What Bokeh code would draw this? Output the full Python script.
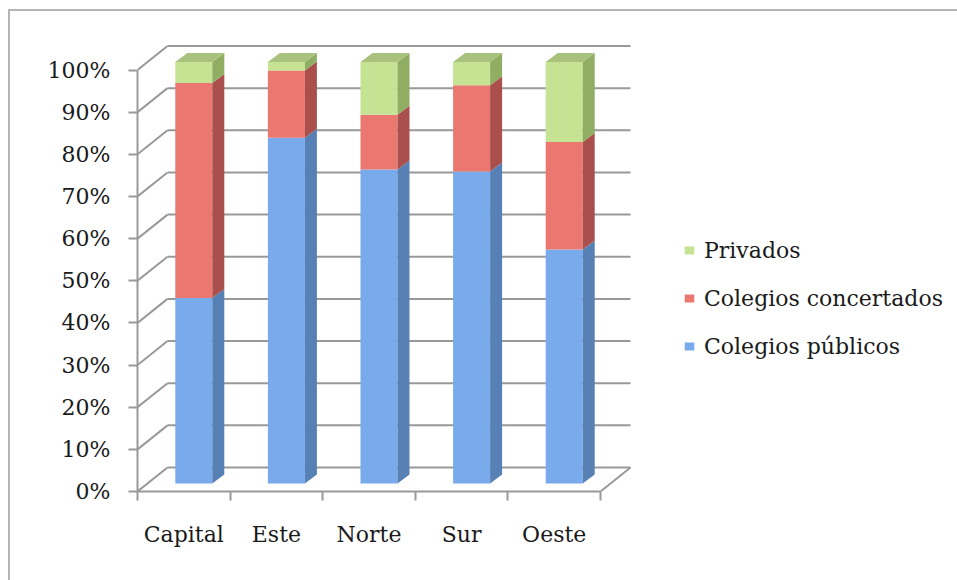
from bokeh.plotting import figure
from bokeh.models import (Range1d, FixedTicker, PrintfTickFormatter, Legend,
                          LegendItem, InlineStyleSheet)
from bokeh.embed import file_html
from bokeh.resources import INLINE

# ---------------- data ----------------
categories = ["Capital", "Este", "Norte", "Sur", "Oeste"]
publicos = [44, 82, 74.5, 74, 55.5]
concertados = [51, 16, 13, 20.5, 25.5]
privados = [5, 2, 12.5, 5.5, 19]
series_names = ["Colegios públicos", "Colegios concertados", "Privados"]
y_ticks = [0, 10, 20, 30, 40, 50, 60, 70, 80, 90, 100]

# ---------------- style ----------------
W, H = 957, 580
FRAME_L, FRAME_B = 137, 491
PX_X = 92.6      # pixels per category
PX_Y = 4.215     # pixels per percent
BACK_DX, BACK_DY = 30 / PX_X, 24 / PX_Y      # depth of the back wall
BAR_DX, BAR_DY = 10 / PX_X, 8 / PX_Y         # front face shift of the bars
BAR_W = 37 / PX_X
SIDE_DX, SIDE_DY = 12 / PX_X, 9 / PX_Y
FONT = "DejaVu Serif"
GRAY = "#999999"
front_colors = ["#78aaec", "#ea7870", "#c6e394"]
side_colors = ["#5780b5", "#aa4f4b", "#8fae62"]
top_colors = ["#6b98cf", "#c96560", "#a8c17d"]

border_css = InlineStyleSheet(css="""
:host { position: relative; overflow: hidden; }
:host::after { content: ''; position: absolute; left: 8px; top: 9px;
  right: -20px; bottom: -20px; border: 2px solid #b4b4b4;
  pointer-events: none; }
""")

p = figure(width=W, height=H,
           x_range=Range1d(0, (W - FRAME_L) / PX_X),
           y_range=Range1d(0, FRAME_B / PX_Y),
           min_border_left=FRAME_L, min_border_right=0,
           min_border_top=0, min_border_bottom=H - FRAME_B,
           output_backend="svg", toolbar_location=None,
           stylesheets=[border_css])
p.outline_line_color = None
p.grid.visible = False
p.background_fill_color = "white"
p.border_fill_color = "white"

n = len(categories)

# ---------------- walls / gridlines ----------------
p.segment(x0=[BACK_DX] * len(y_ticks), y0=[t + BACK_DY for t in y_ticks],
          x1=[n + BACK_DX] * len(y_ticks), y1=[t + BACK_DY for t in y_ticks],
          line_color=GRAY, line_width=2)
p.segment(x0=[0] * len(y_ticks), y0=y_ticks,
          x1=[BACK_DX] * len(y_ticks), y1=[t + BACK_DY for t in y_ticks],
          line_color=GRAY, line_width=2)
p.segment(x0=[n], y0=[0], x1=[n + BACK_DX], y1=[BACK_DY],
          line_color=GRAY, line_width=2)

# ---------------- bars ----------------
values = [publicos, concertados, privados]
bottoms = [0.0] * n
front_renderers = []
side_xs, side_ys, side_c = [], [], []
top_xs, top_ys, top_c = [], [], []
for s, vals in enumerate(values):
    lefts, rights, bots, tops = [], [], [], []
    for i, v in enumerate(vals):
        L = i + 0.5 + BAR_DX - BAR_W / 2
        R = i + 0.5 + BAR_DX + BAR_W / 2
        b = bottoms[i] + BAR_DY
        t = bottoms[i] + v + BAR_DY
        lefts.append(L); rights.append(R); bots.append(b); tops.append(t)
        side_xs.append([R, R + SIDE_DX, R + SIDE_DX, R])
        side_ys.append([b, b + SIDE_DY, t + SIDE_DY, t])
        side_c.append(side_colors[s])
        if s == len(values) - 1:
            top_xs.append([L, L + SIDE_DX, R + SIDE_DX, R])
            top_ys.append([t, t + SIDE_DY, t + SIDE_DY, t])
            top_c.append(top_colors[s])
        bottoms[i] += v
    r = p.quad(left=lefts, right=rights, bottom=bots, top=tops,
               fill_color=front_colors[s], line_color=None)
    front_renderers.append(r)

p.patches(xs=side_xs, ys=side_ys, fill_color=side_c, line_color=None)
p.patches(xs=top_xs, ys=top_ys, fill_color=top_c, line_color=None)

# ---------------- axes ----------------
yax = p.yaxis[0]
yax.ticker = FixedTicker(ticks=y_ticks)
yax.bounds = (0, 100)
yax.formatter = PrintfTickFormatter(format="%d%%")
yax.axis_line_color = GRAY
yax.axis_line_width = 2
yax.major_tick_line_color = GRAY
yax.major_tick_line_width = 2
yax.major_tick_out = 9
yax.major_tick_in = 0
yax.minor_tick_line_color = None
yax.major_label_standoff = 18
yax.major_label_text_font = FONT
yax.major_label_text_font_size = "22px"
yax.major_label_text_color = "#1a1a1a"

xax = p.xaxis[0]
centers = [i + 0.5 for i in range(n)]
xax.ticker = FixedTicker(ticks=centers, minor_ticks=list(range(n + 1)))
xax.bounds = (0, n)
xax.major_label_overrides = {c: lab for c, lab in zip(centers, categories)}
xax.axis_line_color = GRAY
xax.axis_line_width = 2
xax.major_tick_line_color = None
xax.major_tick_out = 0
xax.major_tick_in = 0
xax.minor_tick_line_color = GRAY
xax.minor_tick_line_width = 2
xax.minor_tick_out = 9
xax.minor_tick_in = 0
xax.major_label_standoff = 21
xax.major_label_text_font = FONT
xax.major_label_text_font_size = "22px"
xax.major_label_text_color = "#1a1a1a"

# ---------------- legend ----------------
legend = Legend(items=[LegendItem(label=series_names[2], renderers=[front_renderers[2]]),
                       LegendItem(label=series_names[1], renderers=[front_renderers[1]]),
                       LegendItem(label=series_names[0], renderers=[front_renderers[0]])],
                location=(546, 132), orientation="vertical",
                border_line_color=None, background_fill_alpha=0,
                padding=0, margin=0, glyph_width=12, glyph_height=10,
                label_standoff=9, spacing=22, label_height=26,
                label_text_font=FONT, label_text_font_size="22px",
                label_text_color="#1a1a1a")
p.add_layout(legend)

open("out.html", "w").write(file_html(p, INLINE))
